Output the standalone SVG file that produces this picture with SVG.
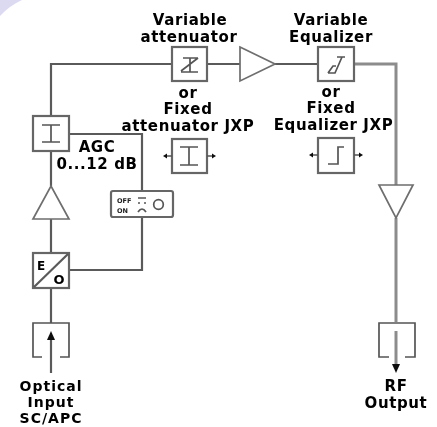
<svg xmlns="http://www.w3.org/2000/svg" width="437" height="427" viewBox="0 0 437 427">
<style>
.s{fill:none;stroke:#5a5a5a;stroke-width:2.200}
.w{fill:#fff;stroke:#666;stroke-width:2.200}
.a{fill:#fff;stroke:#6e6e6e;stroke-width:1.700}
.g{fill:none;stroke:#555;stroke-width:1.700}
.d{fill:#111;stroke:none}
.t{font-family:"DejaVu Sans",sans-serif;font-weight:700;font-size:15px;fill:#000;text-anchor:middle;letter-spacing:.6px}
.b{font-size:14px;letter-spacing:1px}
.m{font-family:"DejaVu Sans",sans-serif;font-weight:700;font-size:6.500px;fill:#222}
</style>
<defs><filter id="f" x="-5%" y="-5%" width="110%" height="110%"><feGaussianBlur stdDeviation="0.5"/></filter></defs>
<rect width="437" height="427" fill="#fff"/>
<path d="M0 0H22Q9 6 0 16Z" fill="#dcdaf0"/>
<g filter="url(#f)">
<g id="connectors">
<path class="s" d="M51 116V64H172M207 64H240M275 64H318M51 151V186M51 219V253M51 288V323M69 134H142V191M142 217V270H69"/>
<path d="M354 64H396V185M396 218V322" fill="none" stroke="#8c8c8c" stroke-width="3"/>
<path class="s" d="M51 373V336"/>
<path class="d" d="M51 331L55 340H47Z"/>
<path d="M396 331V366" fill="none" stroke="#8c8c8c" stroke-width="3"/>
<path class="d" d="M396 373L392 364H400Z"/>
</g>
<g id="variable-attenuator">
<rect class="w" x="172" y="47" width="35" height="34"/>
<path class="g" d="M183 58H198M181 72H198M190 58V72M181 71L198 58"/>
<text class="t" x="190" y="24.500">Variable</text><text class="t" x="189" y="41.500">attenuator</text>
</g>
<g id="fixed-attenuator">
<rect class="w" x="172" y="139" width="35" height="34"/>
<path class="g" d="M180 147H198M180 165H198M189 147V165M165 156H172M207 156H214"/>
<path class="d" d="M163 156L167 153.500V158.500ZM216 156L212 153.500V158.500Z"/>
<text class="t" x="188" y="97.500">or</text><text class="t" x="188" y="114">Fixed</text><text class="t" x="188" y="130.500">attenuator JXP</text>
</g>
<g id="amp-1"><path class="a" d="M240 47L275 64L240 81Z"/></g>
<g id="variable-equalizer">
<rect class="w" x="318" y="47" width="36" height="34"/>
<path class="g" d="M328 73H335L342 57H345M328 73L333 66H336M337 57H345"/>
<text class="t" x="331" y="24.500">Variable</text><text class="t" x="331" y="41.500">Equalizer</text>
</g>
<g id="fixed-equalizer">
<rect class="w" x="318" y="138" width="36" height="35"/>
<path class="g" d="M328 164H338V147H344M311 155H318M354 155H361"/>
<path class="d" d="M309 155L313 152.500V157.500ZM363 155L359 152.500V157.500Z"/>
<text class="t" x="331" y="96.500">or</text><text class="t" x="331" y="113">Fixed</text><text class="t" x="333.500" y="129.500">Equalizer JXP</text>
</g>
<g id="amp-out"><path class="a" d="M379 185H413L396 218Z"/></g>
<g id="rf-output">
<path class="g" d="M389 357H379V323H415V357H405"/>
<text class="t" x="396" y="390.500">RF</text><text class="t" x="396" y="407.500">Output</text>
</g>
<g id="agc-attenuator">
<rect class="w" x="33" y="116" width="36" height="35"/>
<path class="g" d="M42 125H60M42 142H60M51 125V142"/>
<text class="t" x="97" y="151.500">AGC</text><text class="t" x="97" y="168.500">0...12 dB</text>
</g>
<g id="agc-switch">
<rect class="w" x="111" y="191" width="62" height="26" rx="2"/>
<text class="m" x="117" y="203">OFF</text><text class="m" x="117" y="212.500">ON</text>
<path class="g" stroke-width="1" d="M138 198H146M138 203H140M144 203H146M138 212Q142 206 146 212"/>
<circle class="g" cx="158.500" cy="204.500" r="4.800"/>
</g>
<g id="amp-in"><path class="a" d="M33 219H69L51 186Z"/></g>
<g id="eo-converter">
<rect class="w" x="33" y="253" width="36" height="35"/>
<path class="s" d="M34 287L68 254"/>
<text class="t" style="font-size:12px;letter-spacing:0" x="41" y="270">E</text>
<text class="t" style="font-size:13px;letter-spacing:0" x="59" y="284">O</text>
</g>
<g id="optical-input">
<path class="g" d="M42 357H33V323H69V357H60"/>
<text class="t b" x="51" y="390.500">Optical</text><text class="t b" x="51" y="406.500">Input</text><text class="t b" x="51" y="423">SC/APC</text>
</g>
</g>
</svg>
